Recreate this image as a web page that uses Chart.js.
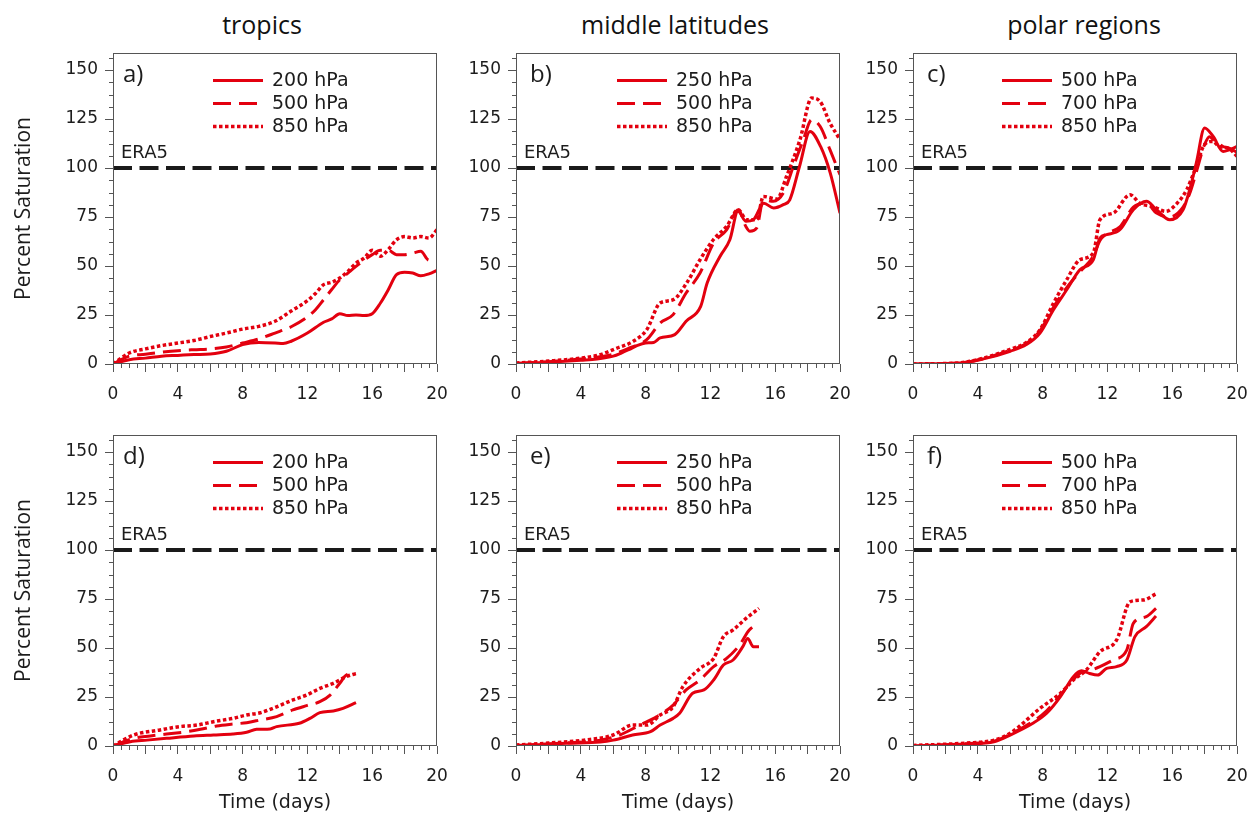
<!DOCTYPE html>
<html>
<head>
<meta charset="utf-8">
<script src="https://cdn.jsdelivr.net/npm/chart.js@4/dist/chart.umd.min.js"></script>
<style>
  body { margin: 0; background: #fff; width: 1251px; height: 814px; position: relative; overflow: hidden; }
  canvas { position: absolute; }
  .coltitle { position: absolute; font-family: 'Open Sans', sans-serif; font-size: 25px; color: #111;
              transform: translate(-50%, -50%); white-space: nowrap; }
</style>
</head>
<body>
<div class="coltitle" id="t0" style="left:262px; top:24px;"></div>
<div class="coltitle" id="t1" style="left:675px; top:24px;"></div>
<div class="coltitle" id="t2" style="left:1084px; top:24px;"></div>
<canvas id="pa"></canvas>
<canvas id="pb"></canvas>
<canvas id="pc"></canvas>
<canvas id="pd"></canvas>
<canvas id="pe"></canvas>
<canvas id="pf"></canvas>
<script>
// column titles and legend labels
const regions = ['tropics', 'middle latitudes', 'polar regions'];
const tropicsLevels = ['200 hPa', '500 hPa', '850 hPa'];
const midLevels = ['250 hPa', '500 hPa', '850 hPa'];
const polarLevels = ['500 hPa', '700 hPa', '850 hPa'];

// tick values
const dayTicks = [0, 2, 4, 6, 8, 10, 12, 14, 16, 18, 20];
const pctTicks = [0, 25, 50, 75, 100, 125, 150];
const era5Level = 100;

// a) tropics, 20 day runs  [day, percent]
const trop200 = [[0,0],[1,2.2],[2,3],[3,4],[4,4.4],[5,4.8],[6,5.1],[7,6.5],[8,9.9],[9,11],[10,10.7],[10.5,10.4],[11,11.6],[12,15.8],[13,21.3],[13.5,23],[14,25.7],[14.5,24.7],[15,25],[15.5,24.8],[16,25.7],[16.5,31],[17,38],[17.5,45.6],[18,46.8],[18.5,46.4],[19,45],[19.5,46],[20,47.8]];
const trop500 = [[0,0],[1,4],[2,5],[3,6],[4,6.8],[5,7.3],[6,7.7],[7,8.7],[8,10.7],[9,12.8],[10,15.8],[11,19],[12,24],[12.5,27.7],[13,32.8],[13.5,38],[14,43],[14.5,46.4],[15,49.8],[15.5,53],[16,55.8],[16.5,58],[17,58],[17.5,55.8],[18,55.8],[18.5,56.6],[19,57.5],[19.5,53],[20,53.5]];
const trop850 = [[0,0],[1,5.6],[2,7.7],[3,9.4],[4,10.7],[5,12],[6,14],[7,15.8],[8,17.8],[9,19.2],[10,21.8],[11,27],[12,32.3],[12.5,36],[13,40.5],[13.5,41.7],[14,43.9],[14.5,47.3],[15,51.5],[15.5,54],[16,58],[16.5,55],[17,58.5],[17.5,63.4],[18,65],[18.5,64.3],[19,65],[19.5,64.3],[20,68.5]];

// b) middle latitudes
const mid250 = [[0,0.2],[2,0.9],[4,1.9],[5,2.5],[6,4],[6.5,5.6],[7,7.5],[7.5,9.5],[8,10.7],[8.5,11],[8.9,13.3],[9.8,15],[10.5,21.8],[11.4,29.4],[11.8,41.3],[12.6,55],[13.2,63.4],[13.7,77.9],[14.2,72.8],[14.65,73.6],[15.3,82],[15.9,79.6],[16.5,81.3],[16.9,83.8],[17.5,100.8],[18.15,118.7],[18.8,111],[19.4,97.4],[20,77]];
const mid500 = [[0,0.3],[2,1.2],[4,2.5],[5,3.5],[6,5],[7,8.2],[8.07,12.4],[8.9,20.9],[9.7,25.2],[10.5,36.2],[11.36,46.4],[12.2,61.7],[13,68.5],[13.72,78.7],[14.2,70],[14.44,67.7],[14.86,69.4],[15.27,83.8],[15.88,83],[16.5,87.2],[17.12,100.8],[17.74,114.5],[18.25,124.7],[18.77,121.3],[19.38,109.4],[20,96.6]];
const mid850 = [[0,0.5],[2,1.5],[4,3],[5.2,4.8],[6.2,8],[7.24,11.6],[8.07,17.5],[8.89,31.1],[9.71,32.8],[10.53,41.3],[11.36,53.2],[12.18,63.4],[13,70.2],[13.72,78.7],[14.24,73.6],[14.86,73.6],[15.27,85.5],[16.1,84.2],[16.7,95.7],[17.53,114.5],[18.25,135.7],[18.77,134],[19.38,123],[20,114.5]];

// c) polar regions
const pol500 = [[0,0],[2.9,0.5],[4.35,2.6],[6,6.5],[7,9.9],[7.84,15.8],[8.67,27.7],[9.49,37.9],[10.3,48.1],[11.13,53.2],[11.54,64.3],[11.95,66],[12.77,68.5],[13.6,78.7],[14.41,83],[15.03,78.7],[15.85,73.6],[16.67,78.7],[17.08,88.9],[17.49,102.6],[18,120.4],[18.52,116.2],[19.14,108.5],[19.55,109.4],[20,111]];
const pol700 = [[0,0],[2.9,0.5],[4.35,2.8],[6,7],[7,10.5],[7.84,17],[8.67,29],[9.49,39],[10.3,47],[11.13,55],[11.54,63],[11.95,66.5],[12.77,70],[13.6,80],[14.41,82],[15.03,77],[15.85,75],[16.67,80],[17.08,87],[17.49,98],[18,112],[18.3,116],[18.6,114],[19.14,111],[19.55,110],[20,108]];
const pol850 = [[0,0],[2.9,0.6],[4.35,3],[6,7.5],[7,11],[7.84,17.5],[8.67,31],[9.49,43],[10.3,53.2],[11.13,56.6],[11.54,73.6],[12.36,77],[13.4,86.4],[14,82],[14.8,80.4],[15.6,77.9],[16.3,82],[16.9,89],[17.4,99],[18,112],[18.5,113.6],[18.9,111],[19.5,110],[20,106]];

// d) tropics, 15 day runs
const trop200s = [[0,0],[1.07,2.2],[2.1,3],[3.3,3.9],[5,5.1],[6.2,5.6],[7.4,6.1],[8.25,7],[8.87,8.5],[9.7,8.7],[10.1,9.9],[11.5,11.6],[12.16,14.1],[12.77,17],[13.6,17.9],[14.2,19.2],[15,22.1]];
const trop500s = [[0,0],[1.27,3.9],[2.3,5.1],[3.3,6.1],[4.56,7.3],[5.4,8.5],[6.4,10.2],[7.4,11.2],[8.25,11.9],[9.1,13.3],[10.1,15],[11.1,18.4],[12,20.7],[12.77,22.6],[13.4,26],[14,32],[14.4,36.2],[15,37]];
const trop850s = [[0,0],[1.27,5.6],[2.9,8.2],[4.1,9.9],[5.2,10.7],[6.2,12.4],[7.4,14.1],[8.25,15.8],[9.1,17],[10.1,20],[11.1,23.5],[11.95,26],[12.77,29.4],[13.6,32],[14.4,35.4],[15,37]];

// e) middle latitudes, 15 day runs
const mid250s = [[0,0],[3.1,1.4],[5.2,2],[6,3],[7.2,5.6],[8.3,7.3],[8.9,10.7],[9.7,14.1],[10.1,16.7],[10.9,26.9],[11.6,28.6],[12.2,33.7],[12.8,41.3],[13.4,43.9],[14,50.7],[14.3,54.9],[14.65,50.7],[15,50.7]];
const mid500s = [[0,0.3],[3,1.5],[5.2,3],[6.4,5.6],[7.65,10.7],[8.7,15],[9.7,20.9],[10.5,28.6],[11.36,33.7],[12.2,40.5],[13,44.7],[13.8,51.5],[14.4,59.2],[15,62.6]];
const mid850s = [[0,0.5],[2,1.5],[4.2,3],[6,5.6],[7.2,10.7],[8.1,10.7],[8.9,15.8],[9.7,20],[10.3,30.3],[11.36,39.6],[12.2,44.7],[12.8,55.8],[13.4,59.2],[14.2,65.1],[15,70.2]];

// f) polar regions, 15 day runs
const pol500s = [[0,0],[3.3,1],[5,2.2],[6,5.6],[7.4,11.6],[8.25,16.7],[9.1,25.2],[9.9,35.4],[10.4,38.4],[10.9,37],[11.4,36.2],[11.95,39.6],[12.57,40.5],[13.2,43.9],[13.7,55.8],[14.4,60.9],[15,66.3]];
const pol700s = [[0,0],[3.3,1.2],[5,2.5],[6,6],[7.4,12.5],[8.25,18],[9.1,26],[9.9,34],[10.4,37.5],[10.9,38.5],[11.54,40.5],[12.36,43.9],[13.2,49],[13.6,62.6],[14.4,66],[15,70.2]];
const pol850s = [[0,0.3],[3.3,1.5],[5,3],[6,6.5],[7.84,19.2],[9.1,26.9],[9.9,33.7],[10.7,38.8],[11.54,48.1],[12.57,54.1],[13.4,73.6],[14.2,74.5],[15,77.6]];

const RED = '#e3000f';
const DASHES = [[], [18, 8], [3.5, 2.5]];
const TEXT = '#1c1c1c';
const SPINE = '#555';

// layout of the 2x3 grid (pixels)
const plotLeft = [113, 516, 913];
const plotTop = [53, 435];
const plotW = 324;
const plotH = 311;
const topPad = 20;
const rightPad = 26;

const panels = [
  { id: 'pa', tag: 'a)', col: 0, row: 0, labels: tropicsLevels, series: [trop200, trop500, trop850], legendX: 100, tagX: 10 },
  { id: 'pb', tag: 'b)', col: 1, row: 0, labels: midLevels, series: [mid250, mid500, mid850], legendX: 101, tagX: 14 },
  { id: 'pc', tag: 'c)', col: 2, row: 0, labels: polarLevels, series: [pol500, pol700, pol850], legendX: 89, tagX: 14 },
  { id: 'pd', tag: 'd)', col: 0, row: 1, labels: tropicsLevels, series: [trop200s, trop500s, trop850s], legendX: 100, tagX: 10 },
  { id: 'pe', tag: 'e)', col: 1, row: 1, labels: midLevels, series: [mid250s, mid500s, mid850s], legendX: 101, tagX: 14 },
  { id: 'pf', tag: 'f)', col: 2, row: 1, labels: polarLevels, series: [pol500s, pol700s, pol850s], legendX: 89, tagX: 14 }
];

// frame, minor ticks, panel tag, ERA5 label and the legend
const panelDecor = {
  id: 'panelDecor',
  afterDatasetsDraw(chart, args, opts) {
    const { ctx, chartArea: a, scales: { x, y } } = chart;
    const L = Math.round(a.left) + 0.5;
    const T = Math.round(a.top) + 0.5;
    const R = Math.round(a.right) - 0.5;
    const B = Math.round(a.bottom) - 0.5;
    ctx.save();
    ctx.strokeStyle = SPINE;
    ctx.lineWidth = 1;
    ctx.setLineDash([]);
    ctx.strokeRect(L, T, R - L, B - T);

    ctx.beginPath();
    for (let d = 0.5; d < 20; d += 0.5) {
      if (d % 2 === 0) continue;
      const px = Math.round(x.getPixelForValue(d)) + 0.5;
      ctx.moveTo(px, B);
      ctx.lineTo(px, B + 4.5);
    }
    for (let v = 6.25; v < y.max; v += 6.25) {
      if (v % 25 === 0) continue;
      const py = Math.round(y.getPixelForValue(v)) + 0.5;
      ctx.moveTo(L, py);
      ctx.lineTo(L - 4.5, py);
    }
    ctx.stroke();

    ctx.fillStyle = TEXT;
    ctx.textBaseline = 'middle';
    ctx.font = '24px "Open Sans"';
    ctx.fillText(opts.tag, a.left + opts.tagX, a.top + 22);

    ctx.textBaseline = 'alphabetic';
    ctx.font = '18px "DejaVu Sans"';
    ctx.fillText('ERA5', a.left + 8, y.getPixelForValue(era5Level) - 10);

    const rows = [27.5, 50.5, 73.5];
    const lx = a.left + opts.legendX;
    ctx.font = '19px "DejaVu Sans"';
    ctx.textBaseline = 'middle';
    rows.forEach((ry, i) => {
      const ds = chart.data.datasets[i];
      ctx.strokeStyle = ds.borderColor;
      ctx.lineWidth = ds.borderWidth;
      ctx.setLineDash(ds.borderDash);
      ctx.beginPath();
      ctx.moveTo(lx, a.top + ry);
      ctx.lineTo(lx + 50, a.top + ry);
      ctx.stroke();
      ctx.fillText(ds.label, lx + 59, a.top + ry + 1);
    });
    ctx.restore();
  }
};

function makePanel(p) {
  const yW = p.col === 0 ? plotLeft[0] : 60;
  const xH = p.row === 1 ? 814 - (plotTop[1] + plotH) : 50;
  const canvas = document.getElementById(p.id);
  canvas.width = yW + plotW + rightPad;
  canvas.height = topPad + plotH + xH;
  canvas.style.left = (plotLeft[p.col] - yW) + 'px';
  canvas.style.top = (plotTop[p.row] - topPad) + 'px';

  const datasets = p.series.map((s, i) => ({
    label: p.labels[i],
    data: s.map((pt) => ({ x: pt[0], y: pt[1] })),
    borderColor: RED,
    borderWidth: i === 2 ? 3.5 : 3,
    borderDash: DASHES[i],
    pointRadius: 0,
    cubicInterpolationMode: 'monotone'
  }));
  datasets.push({
    label: 'ERA5',
    data: [{ x: 0, y: era5Level }, { x: 20, y: era5Level }],
    borderColor: '#1a1a1a',
    borderWidth: 4,
    borderDash: [19, 7.5],
    pointRadius: 0
  });

  return new Chart(canvas, {
    type: 'line',
    data: { datasets: datasets },
    options: {
      responsive: false,
      animation: false,
      layout: { padding: { top: topPad, right: rightPad, left: 0, bottom: 0 } },
      plugins: {
        legend: { display: false },
        tooltip: { enabled: false },
        panelDecor: { tag: p.tag, tagX: p.tagX, legendX: p.legendX }
      },
      scales: {
        x: {
          type: 'linear',
          min: 0,
          max: 20,
          afterBuildTicks: (scale) => { scale.ticks = dayTicks.map((v) => ({ value: v })); },
          afterFit: (scale) => { scale.height = xH; },
          grid: { display: true, drawOnChartArea: false, drawTicks: true, tickLength: 8, tickColor: SPINE },
          border: { display: false },
          ticks: {
            autoSkip: false,
            maxRotation: 0,
            padding: 12,
            color: TEXT,
            font: { family: 'DejaVu Sans', size: 17 },
            callback: (v) => (v % 4 === 0 ? v : '')
          },
          title: {
            display: p.row === 1,
            text: 'Time (days)',
            color: TEXT,
            font: { family: 'DejaVu Sans', size: 19 },
            padding: { top: 0, bottom: 0 }
          }
        },
        y: {
          min: 0,
          max: 158.7,
          afterBuildTicks: (scale) => { scale.ticks = pctTicks.map((v) => ({ value: v })); },
          afterFit: (scale) => { scale.width = yW; },
          grid: { display: true, drawOnChartArea: false, drawTicks: true, tickLength: 8, tickColor: SPINE },
          border: { display: false },
          ticks: {
            padding: 7,
            color: TEXT,
            font: { family: 'DejaVu Sans', size: 17 }
          },
          title: {
            display: p.col === 0,
            text: 'Percent Saturation',
            color: TEXT,
            font: { family: 'Open Sans', size: 21 },
            padding: { top: 11, bottom: 0 }
          }
        }
      }
    },
    plugins: [panelDecor]
  });
}

regions.forEach((r, i) => { document.getElementById('t' + i).textContent = r; });
panels.forEach((p) => makePanel(p));
</script>
</body>
</html>
